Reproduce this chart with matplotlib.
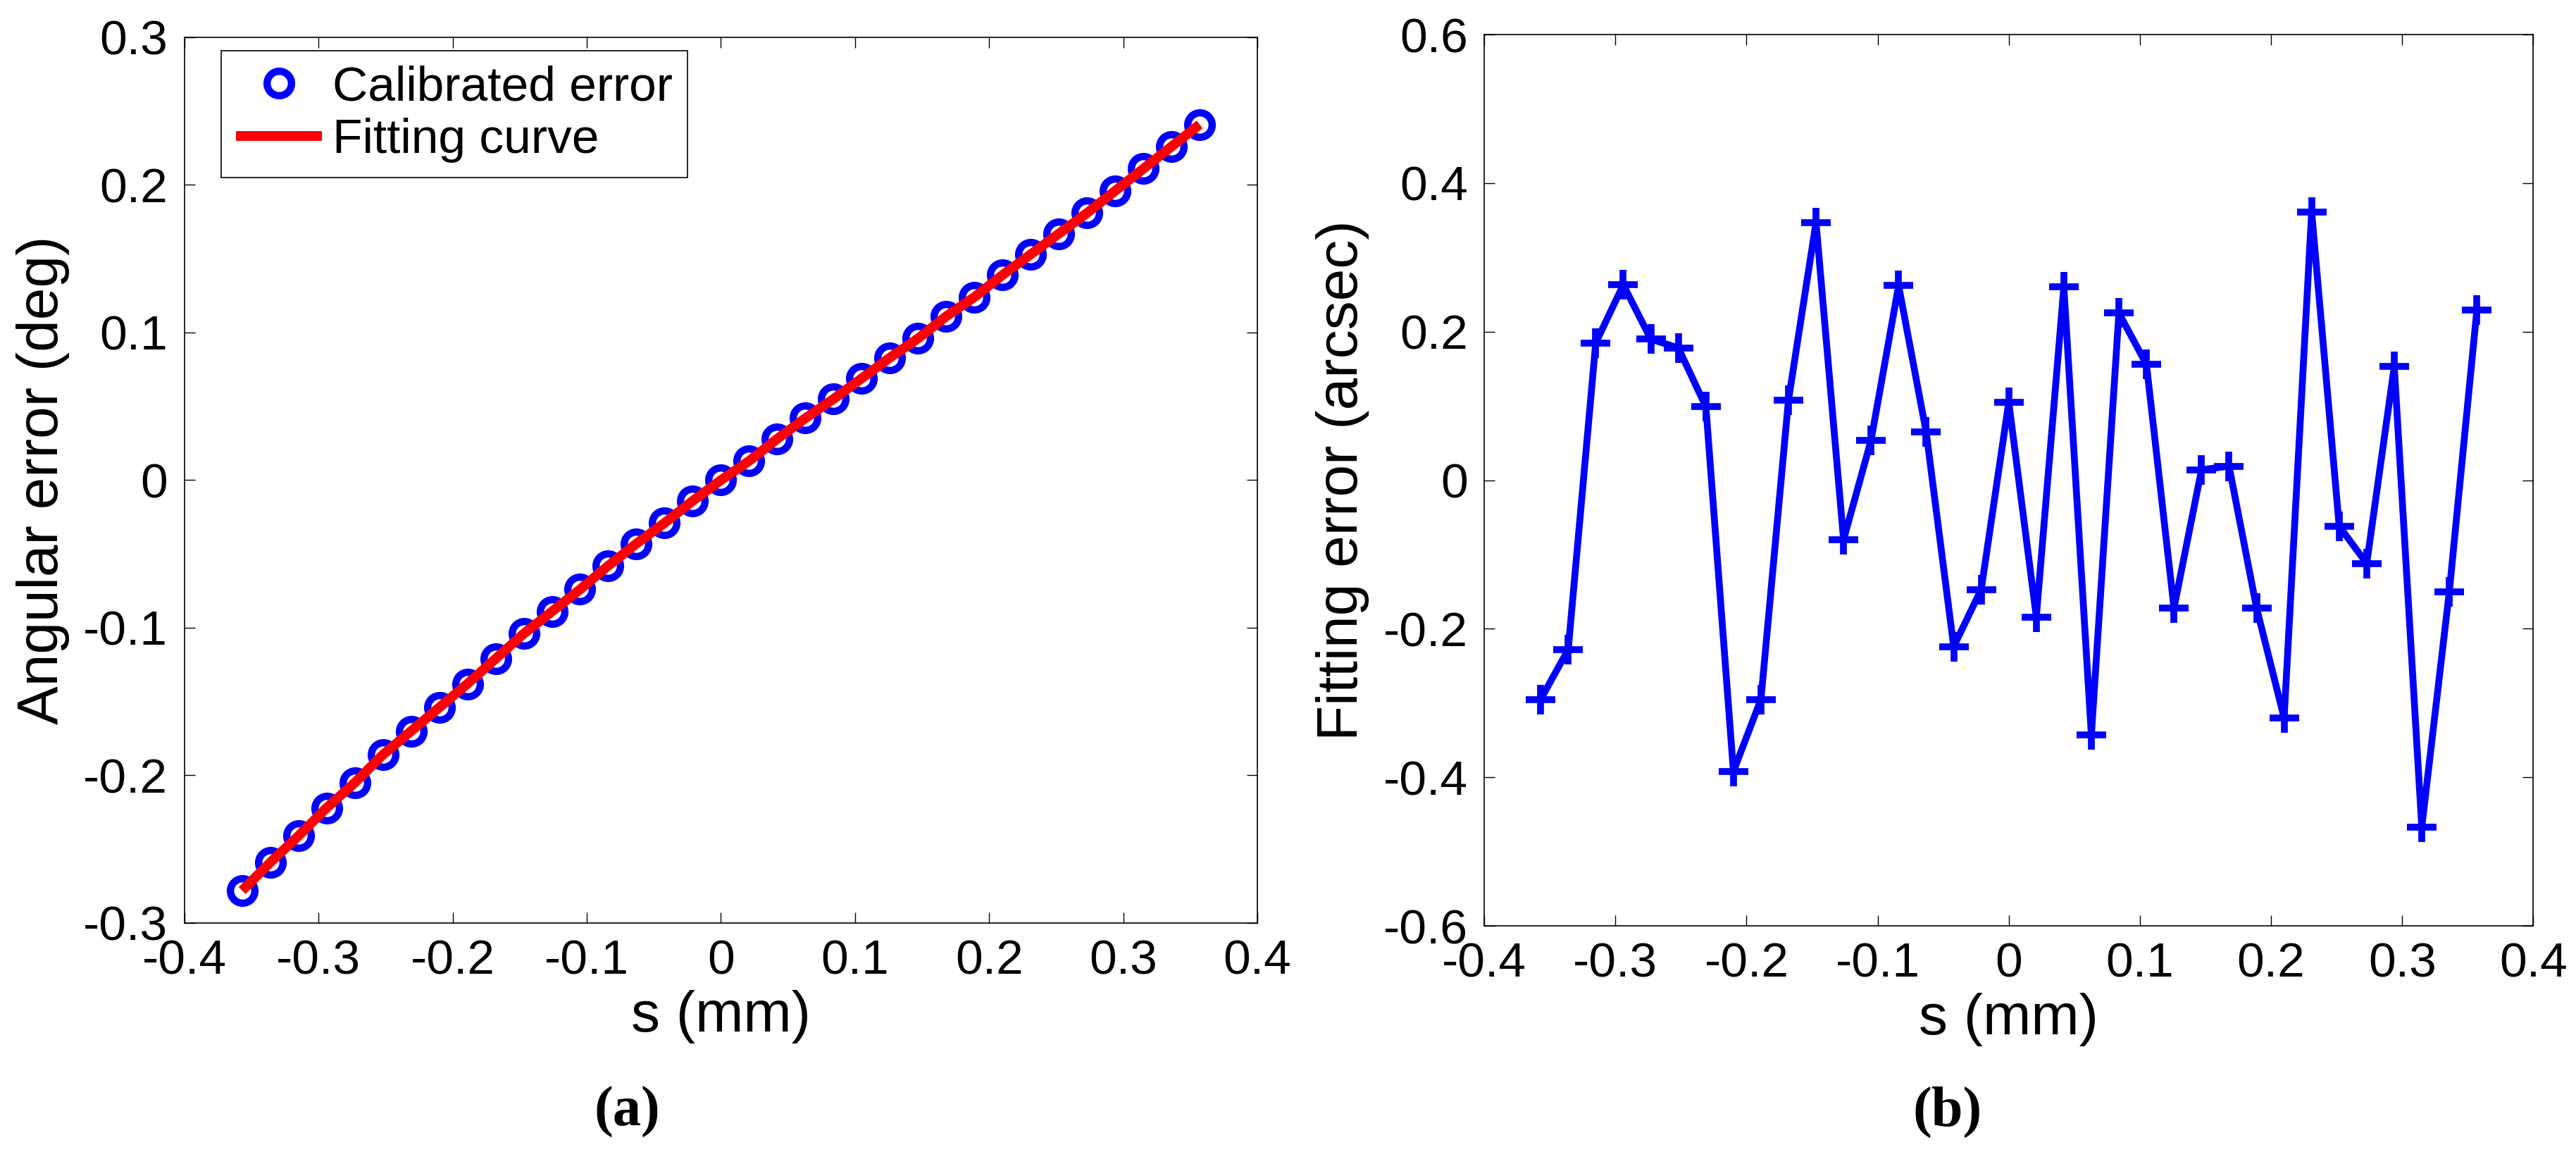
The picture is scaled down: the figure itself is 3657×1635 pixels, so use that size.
import matplotlib
matplotlib.use("Agg")
import matplotlib.pyplot as plt
from matplotlib.ticker import FuncFormatter

plt.rcParams["font.family"] = ["Liberation Sans", "DejaVu Sans"]
plt.rcParams["axes.unicode_minus"] = False

# Data
s_mm = [-0.357, -0.336, -0.315, -0.294, -0.273, -0.252, -0.231, -0.210, -0.189,
        -0.168, -0.147, -0.126, -0.105, -0.084, -0.063, -0.042, -0.021, 0.0,
        0.021, 0.042, 0.063, 0.084, 0.105, 0.126, 0.147, 0.168, 0.189, 0.210,
        0.231, 0.252, 0.273, 0.294, 0.315, 0.336, 0.357]

angular_err = [-0.278, -0.259, -0.241, -0.222, -0.205, -0.186, -0.170, -0.154,
               -0.138, -0.121, -0.104, -0.089, -0.074, -0.058, -0.043, -0.029,
               -0.014, 0.000, 0.013, 0.028, 0.042, 0.055, 0.069, 0.083, 0.096,
               0.111, 0.124, 0.139, 0.153, 0.167, 0.181, 0.196, 0.211, 0.226,
               0.241]

fitting_err = [-0.295, -0.228, 0.185, 0.263, 0.190, 0.178, 0.099, -0.392,
               -0.295, 0.108, 0.347, -0.080, 0.054, 0.262, 0.065, -0.224,
               -0.147, 0.105, -0.184, 0.260, -0.343, 0.225, 0.156, -0.172,
               0.014, 0.019, -0.172, -0.320, 0.361, -0.062, -0.112, 0.153,
               -0.467, -0.150, 0.229]

x_ticks = [-0.4, -0.3, -0.2, -0.1, 0, 0.1, 0.2, 0.3, 0.4]
y_ticks_a = [-0.3, -0.2, -0.1, 0, 0.1, 0.2, 0.3]
y_ticks_b = [-0.6, -0.4, -0.2, 0, 0.2, 0.4, 0.6]

tick_fs = 50
label_fs = 59
fmt = FuncFormatter(lambda v, p: "%g" % round(v, 2))

fig = plt.figure(figsize=(36.57, 16.35), dpi=100)
ax1 = fig.add_axes([0.0716, 0.1988, 0.4165, 0.7688])
ax2 = fig.add_axes([0.5762, 0.1963, 0.4072, 0.7737])


def style(ax, yticks):
    ax.set_xlim(-0.4, 0.4)
    ax.set_ylim(yticks[0], yticks[-1])
    ax.set_xticks(x_ticks)
    ax.set_yticks(yticks)
    ax.xaxis.set_major_formatter(fmt)
    ax.yaxis.set_major_formatter(fmt)
    ax.tick_params(direction="in", top=True, right=True, length=11, width=1,
                   labelsize=tick_fs)
    ax.tick_params(axis="x", pad=16)
    ax.tick_params(axis="y", pad=17)
    for sp in ax.spines.values():
        sp.set_linewidth(1.2)
    ax.set_xlabel("s (mm)", fontsize=label_fs, labelpad=6)


# (a) calibrated angular error and fitting curve
ax1.plot(s_mm, angular_err, "o", color="blue", markerfacecolor="none",
         markersize=25, markeredgewidth=7.5, label="Calibrated error")
ax1.plot(s_mm, angular_err, "-", color="red", linewidth=10,
         solid_capstyle="butt", label="Fitting curve")
style(ax1, y_ticks_a)
ax1.set_ylabel("Angular error (deg)", fontsize=label_fs, labelpad=14)
leg = ax1.legend(loc="upper left", bbox_to_anchor=(0.0341, 0.985),
                 borderaxespad=0, fontsize=tick_fs, fancybox=False,
                 framealpha=1, edgecolor="black", handlelength=1.76,
                 handletextpad=0.22, borderpad=0.3, labelspacing=0.15,
                 numpoints=1)
leg.get_frame().set_linewidth(1.2)

# (b) fitting error
ax2.plot(s_mm, fitting_err, "-+", color="blue", linewidth=7,
         markersize=30, markeredgewidth=7)
style(ax2, y_ticks_b)
ax2.set_ylabel("Fitting error (arcsec)", fontsize=label_fs, labelpad=14)

fig.text(890 / 3657, 1 - 1578 / 1635, "(a)", fontsize=58, fontweight="bold",
         family="Liberation Serif", ha="center", va="center")
fig.text(2765 / 3657, 1 - 1578 / 1635, "(b)", fontsize=58, fontweight="bold",
         family="Liberation Serif", ha="center", va="center")

fig.savefig("out.png", dpi=100)
